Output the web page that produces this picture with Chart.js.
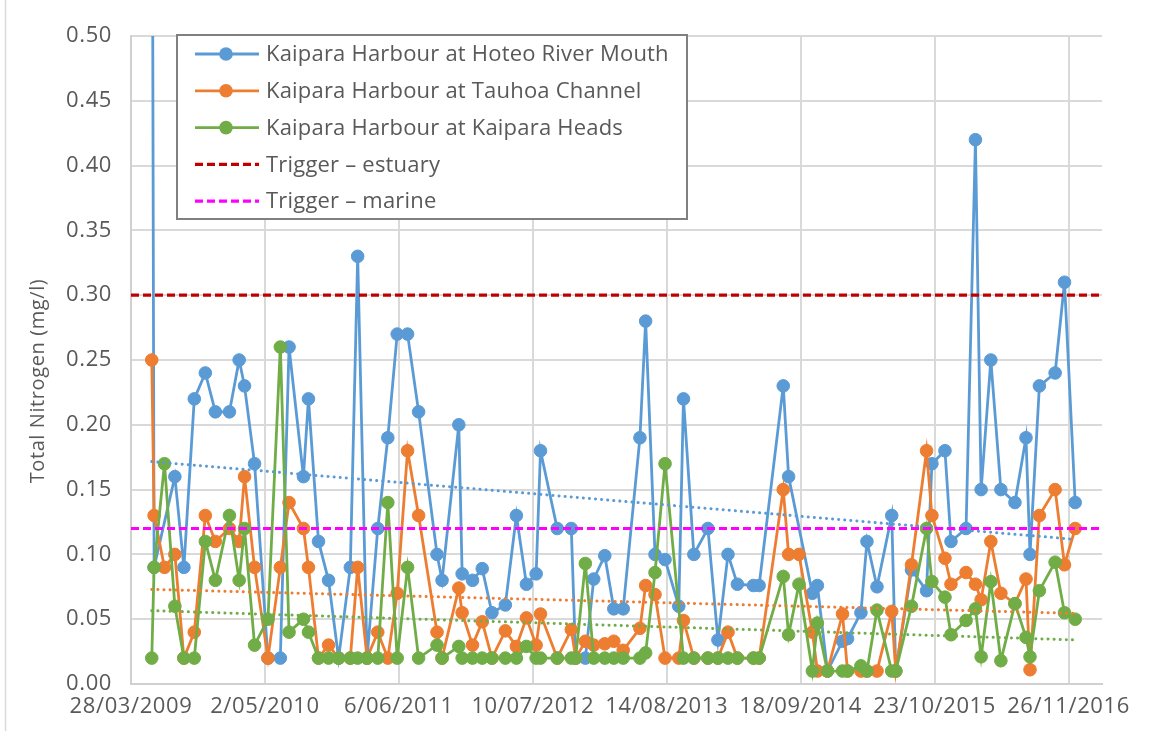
<!DOCTYPE html>
<html>
<head>
<meta charset="utf-8">
<title>Kaipara Harbour – Total Nitrogen</title>
<script src="https://cdn.jsdelivr.net/npm/chart.js@4.4.1/dist/chart.umd.min.js"></script>
<style>
  html, body { margin: 0; padding: 0; background: #ffffff; }
  #wrap { position: relative; width: 1169px; height: 731px; }
  canvas { display: block; }
</style>
</head>
<body>
<div id="wrap"><canvas id="chart" width="1169" height="731"></canvas></div>
<script>
// Sampling dates (shared by the three sites; null = no sample for that site)
const sampleDates = [
  '2009-05-29','2009-06-05','2009-07-06','2009-08-06','2009-09-02','2009-10-03','2009-11-05','2009-12-05',
  '2010-01-16','2010-02-14','2010-03-02','2010-04-01','2010-05-11','2010-06-17','2010-07-13','2010-08-25',
  '2010-09-09','2010-10-09','2010-11-08','2010-12-08','2011-01-12','2011-02-03','2011-03-03','2011-04-04',
  '2011-05-04','2011-06-01','2011-07-02','2011-08-04','2011-09-28','2011-10-13','2011-12-02','2011-12-12',
  '2012-01-12','2012-02-10','2012-03-10','2012-04-19','2012-05-22','2012-06-21','2012-07-20','2012-08-02',
  '2012-09-21','2012-11-02','2012-11-15','2012-12-14','2013-01-08','2013-02-10','2013-03-09','2013-04-06',
  '2013-05-26','2013-06-12','2013-07-10','2013-08-09','2013-09-19','2013-10-03','2013-11-03','2013-12-15',
  '2014-01-14','2014-02-13','2014-03-13','2014-04-30','2014-05-17','2014-07-28','2014-08-13','2014-09-13',
  '2014-10-23','2014-11-07','2014-12-07','2015-01-21','2015-02-05','2015-03-17','2015-04-04','2015-05-04',
  '2015-06-17','2015-06-29','2015-08-15','2015-09-29','2015-10-15','2015-11-23','2015-12-11','2016-01-25',
  '2016-02-22','2016-03-10','2016-04-08','2016-05-08','2016-06-19','2016-07-22','2016-08-03','2016-08-31',
  '2016-10-17','2016-11-14','2016-12-16'
];

// Total nitrogen (mg/l) – Kaipara Harbour at Hoteo River Mouth
const hoteo = [
  0.80, 0.09, null, 0.16, 0.09, 0.22, 0.24, 0.21,
  0.21, 0.25, 0.23, 0.17, 0.02, 0.02, 0.26, 0.16,
  0.22, 0.11, 0.08, 0.02, 0.09, 0.33, 0.02, 0.12,
  0.19, 0.27, 0.27, 0.21, 0.10, 0.08, 0.20, 0.085,
  0.08, 0.089, 0.055, 0.061, 0.13, 0.077, 0.085, 0.18,
  0.12, 0.12, 0.02, 0.02, 0.081, 0.099, 0.058, 0.058,
  0.19, 0.28, 0.10, 0.096, 0.06, 0.22, 0.10, 0.12,
  0.034, 0.10, 0.077, 0.076, 0.076, 0.23, 0.16, null,
  0.07, 0.076, 0.01, 0.033, 0.035, 0.055, 0.11, 0.075,
  0.13, 0.01, 0.088, 0.072, 0.17, 0.18, 0.11, 0.12,
  0.42, 0.15, 0.25, 0.15, 0.14, 0.19, 0.10, 0.23,
  0.24, 0.31, 0.14
];

// Total nitrogen (mg/l) – Kaipara Harbour at Tauhoa Channel
const tauhoa = [
  0.25, 0.13, 0.09, 0.10, 0.02, 0.04, 0.13, 0.11,
  0.12, 0.11, 0.16, 0.09, 0.02, 0.09, 0.14, 0.12,
  0.09, 0.02, 0.03, 0.02, 0.02, 0.09, 0.02, 0.04,
  0.02, 0.07, 0.18, 0.13, 0.04, 0.02, 0.074, 0.055,
  0.03, 0.048, 0.02, 0.041, 0.029, 0.051, 0.030, 0.054,
  0.02, 0.042, 0.02, 0.033, 0.030, 0.031, 0.033, 0.026,
  0.043, 0.076, 0.069, 0.02, 0.02, 0.049, 0.02, 0.02,
  0.02, 0.04, 0.02, 0.02, 0.02, 0.15, 0.10, 0.10,
  0.04, 0.01, 0.01, 0.054, 0.01, 0.01, 0.01, 0.01,
  0.056, 0.01, 0.092, 0.18, 0.13, 0.097, 0.077, 0.086,
  0.077, 0.065, 0.11, 0.07, 0.062, 0.081, 0.011, 0.13,
  0.15, 0.092, 0.12
];

// Total nitrogen (mg/l) – Kaipara Harbour at Kaipara Heads
const heads = [
  0.02, 0.09, 0.17, 0.06, 0.02, 0.02, 0.11, 0.08,
  0.13, 0.08, 0.12, 0.03, 0.05, 0.26, 0.04, 0.05,
  0.04, 0.02, 0.02, 0.02, 0.02, 0.02, 0.02, 0.02,
  0.14, 0.02, 0.09, 0.02, 0.03, 0.02, 0.029, 0.02,
  0.02, 0.02, 0.02, 0.02, 0.02, 0.029, 0.02, 0.02,
  0.02, 0.02, 0.02, 0.093, 0.02, 0.02, 0.02, 0.02,
  0.02, 0.024, 0.086, 0.17, null, 0.02, 0.02, 0.02,
  0.02, 0.02, 0.02, 0.02, 0.02, 0.083, 0.038, 0.077,
  0.01, 0.047, 0.01, 0.01, 0.01, 0.014, 0.01, 0.057,
  0.01, 0.01, 0.06, 0.12, 0.079, 0.067, 0.038, 0.049,
  0.058, 0.021, 0.079, 0.018, 0.062, 0.036, 0.021, 0.072,
  0.094, 0.055, 0.05
];

// Linear trend end points for each site (first and last sampling date)
const trendDates  = ['2009-05-29', '2016-12-16'];
const hoteoTrend  = [0.1716, 0.1116];
const tauhoaTrend = [0.0730, 0.0545];
const headsTrend  = [0.0566, 0.0340];

// Guideline trigger values (mg/l)
const triggerEstuary = 0.30;
const triggerMarine  = 0.12;

// Axis range and tick labels
const xRange     = ['2009-03-28', '2017-03-06'];
const xTickDates = ['2009-03-28','2010-05-02','2011-06-06','2012-07-10','2013-08-14','2014-09-18','2015-10-23','2016-11-26'];
const yTicks     = [0.00, 0.05, 0.10, 0.15, 0.20, 0.25, 0.30, 0.35, 0.40, 0.45, 0.50];
const yTitle     = 'Total Nitrogen (mg/l)';

const seriesNames = [
  'Kaipara Harbour at Hoteo River Mouth',
  'Kaipara Harbour at Tauhoa Channel',
  'Kaipara Harbour at Kaipara Heads',
  'Trigger – estuary',
  'Trigger – marine'
];

// ---- helpers ----
const DAY = 86400000;
function toDay(s) {
  const [y, m, d] = s.split('-').map(Number);
  return Date.UTC(y, m - 1, d) / DAY;
}
function fmtDay(v) {
  const dt = new Date(Math.round(v) * DAY);
  const d = dt.getUTCDate();
  const m = String(dt.getUTCMonth() + 1).padStart(2, '0');
  return d + '/' + m + '/' + dt.getUTCFullYear();
}
function points(dates, values) {
  const out = [];
  dates.forEach((s, i) => { if (values[i] !== null) out.push({ x: toDay(s), y: values[i] }); });
  return out;
}

const FONT = "'Open Sans', 'Liberation Sans', sans-serif";
const TEXT = '#595959';
const BLUE = '#5B9BD5', ORANGE = '#ED7D31', GREEN = '#70AD47';
const RED = '#C00000', MAGENTA = '#FF00FF';

const xMin = toDay(xRange[0]), xMax = toDay(xRange[1]);

function siteSeries(label, values, color, order) {
  return {
    label, data: points(sampleDates, values),
    borderColor: color, backgroundColor: color,
    borderWidth: 2.8, pointRadius: 6.3, pointBorderWidth: 1,
    pointBorderColor: color, pointBackgroundColor: color,
    tension: 0, order, inLegend: true
  };
}
function trendSeries(values, color) {
  return {
    label: '', data: points(trendDates, values),
    borderColor: color, borderWidth: 3, borderDash: [0.1, 6], borderCapStyle: 'round',
    pointRadius: 0, order: 2, inLegend: false
  };
}
function triggerSeries(label, value, color) {
  return {
    label, data: [{ x: xMin, y: value }, { x: xMax, y: value }],
    borderColor: color, borderWidth: 3.2, borderDash: [8, 4],
    pointRadius: 0, order: 1, inLegend: true
  };
}

const datasets = [
  siteSeries(seriesNames[0], hoteo, BLUE, 5),
  siteSeries(seriesNames[1], tauhoa, ORANGE, 4),
  siteSeries(seriesNames[2], heads, GREEN, 3),
  trendSeries(hoteoTrend, BLUE),
  trendSeries(tauhoaTrend, ORANGE),
  trendSeries(headsTrend, GREEN),
  triggerSeries(seriesNames[3], triggerEstuary, RED),
  triggerSeries(seriesNames[4], triggerMarine, MAGENTA)
];

// Chart frame line on the left edge and slightly wider letter spacing for axis text
const frameAndSpacing = {
  id: 'frameAndSpacing',
  beforeDraw(chart) {
    const ctx = chart.ctx;
    ctx.save();
    ctx.strokeStyle = '#d9d9d9';
    ctx.lineWidth = 1.5;
    ctx.beginPath();
    ctx.moveTo(5.5, 0);
    ctx.lineTo(5.5, chart.height);
    ctx.stroke();
    ctx.restore();
    ctx.letterSpacing = '0.6px';
  },
  afterDatasetsDraw(chart) { chart.ctx.letterSpacing = '0px'; }
};

// Rotated y-axis title
const yAxisTitle = {
  id: 'yAxisTitle',
  afterDraw(chart) {
    const ctx = chart.ctx;
    ctx.save();
    ctx.letterSpacing = '0.6px';
    ctx.translate(38, 381);
    ctx.rotate(-Math.PI / 2);
    ctx.fillStyle = TEXT;
    ctx.font = '20px ' + FONT;
    ctx.textAlign = 'center';
    ctx.textBaseline = 'middle';
    ctx.fillText(yTitle, 0, 0);
    ctx.restore();
  }
};

// Boxed legend drawn inside the plot, top left
const boxLegend = {
  id: 'boxLegend',
  afterDraw(chart) {
    const ctx = chart.ctx;
    const box = { x: 177, y: 35, w: 510, h: 184 };
    const rowTop = 54, rowGap = 36.8, lineX0 = 195, lineX1 = 259, markX = 226, textX = 266;
    ctx.save();
    ctx.letterSpacing = '0.2px';
    ctx.fillStyle = '#ffffff';
    ctx.fillRect(box.x, box.y, box.w, box.h);
    ctx.strokeStyle = '#808080';
    ctx.lineWidth = 2;
    ctx.strokeRect(box.x, box.y, box.w, box.h);
    const items = chart.data.datasets.filter(d => d.inLegend);
    items.forEach((ds, i) => {
      const y = rowTop + i * rowGap;
      ctx.strokeStyle = ds.borderColor;
      ctx.lineWidth = ds.borderWidth;
      ctx.setLineDash(ds.borderDash || []);
      ctx.lineCap = 'butt';
      ctx.beginPath();
      ctx.moveTo(lineX0, y);
      ctx.lineTo(lineX1, y);
      ctx.stroke();
      ctx.setLineDash([]);
      if (ds.pointRadius > 0) {
        ctx.fillStyle = ds.borderColor;
        ctx.beginPath();
        ctx.arc(markX, y, 6.8, 0, Math.PI * 2);
        ctx.fill();
      }
      ctx.fillStyle = TEXT;
      ctx.font = '22px ' + FONT;
      ctx.textBaseline = 'middle';
      ctx.textAlign = 'left';
      ctx.fillText(ds.label, textX, y + 1);
    });
    ctx.restore();
  }
};

new Chart(document.getElementById('chart'), {
  type: 'line',
  data: { datasets },
  options: {
    responsive: false,
    animation: false,
    devicePixelRatio: 1,
    events: [],
    layout: { padding: { top: 36, right: 67, bottom: 0, left: 0 } },
    plugins: { legend: { display: false }, tooltip: { enabled: false }, title: { display: false } },
    scales: {
      x: {
        type: 'linear', min: xMin, max: xMax,
        afterFit(scale) { scale.height = 47; },
        afterBuildTicks(scale) { scale.ticks = xTickDates.map(s => ({ value: toDay(s) })); },
        grid: { color: '#d9d9d9', lineWidth: 2, drawTicks: false },
        border: { color: '#d0d0d0', width: 2 },
        ticks: {
          autoSkip: false, maxRotation: 0, padding: 10,
          color: TEXT, font: { family: FONT, size: 22 },
          callback: v => fmtDay(v)
        }
      },
      y: {
        min: 0, max: 0.5,
        afterFit(scale) { scale.width = 131; },
        afterBuildTicks(scale) { scale.ticks = yTicks.map(v => ({ value: v })); },
        grid: { color: '#d9d9d9', lineWidth: 2, drawTicks: false },
        border: { color: '#d0d0d0', width: 2 },
        ticks: {
          padding: 19, color: TEXT, font: { family: FONT, size: 22 },
          callback: v => v.toFixed(2)
        }
      }
    }
  },
  plugins: [frameAndSpacing, yAxisTitle, boxLegend]
});
</script>
</body>
</html>
